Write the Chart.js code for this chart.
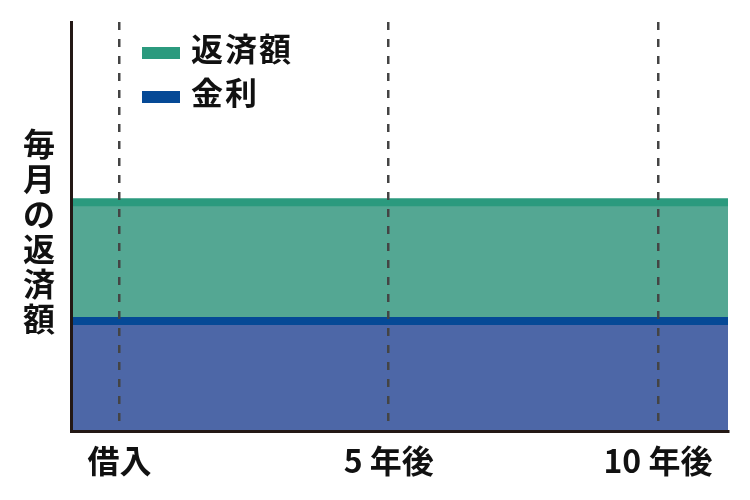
<!DOCTYPE html>
<html lang="ja">
<head>
  <meta charset="UTF-8" />
  <title>毎月の返済額</title>
  <script src="https://cdn.jsdelivr.net/npm/chart.js"></script>
  <style>
    html, body { margin: 0; padding: 0; background: #fff; }
    body { font-family: "Noto Sans CJK JP", "Noto Sans", sans-serif; font-weight: bold; color: #111; }
    .wrap { position: relative; width: 750px; height: 500px; }
    canvas { position: absolute; left: 0; top: 0; }
    .ytitle { position: absolute; left: 22px; top: 125px; width: 34px; font-size: 32px; line-height: 35px; text-align: center; }
    .legend { position: absolute; left: 142px; top: 26px; font-size: 32px; letter-spacing: 2px; }
    .legend div { height: 44px; line-height: 42px; white-space: nowrap; }
    .legend span.sw { display: inline-block; width: 38px; height: 12px; margin-right: 11px; vertical-align: middle; position: relative; top: 1px; }
  </style>
</head>
<body>
  <div class="wrap">
    <canvas id="chart" width="750" height="500"></canvas>
    <div class="ytitle">毎<br>月<br>の<br>返<br>済<br>額</div>
    <div class="legend" id="legend"></div>
  </div>

  <script>
    // years after borrowing (flat monthly payment across the whole span)
    const years = [-1, 0, 5, 10, 12];
    const repayment = [56, 56, 56, 56, 56];   // 返済額 (total monthly payment)
    const interest = [27, 27, 27, 27, 27];    // 金利
    const tickYears = [0, 5, 10];
    const tickLabels = ["借入", "5 年後", "10 年後"];

    const seriesNames = ["返済額", "金利"];
    const lineColors = ["#2b9a7e", "#054996"];
    const fillColors = ["#54a793", "#4d67a7"];

    const legend = document.getElementById("legend");
    seriesNames.forEach((name, i) => {
      const row = document.createElement("div");
      row.innerHTML = `<span class="sw" style="background:${lineColors[i]}"></span>${name}`;
      legend.appendChild(row);
    });

    const toPoints = vals => years.map((x, i) => ({ x, y: vals[i] }));

    new Chart(document.getElementById("chart").getContext("2d"), {
      type: "line",
      data: {
        datasets: [
          {
            label: "金利", data: toPoints(interest),
            borderColor: lineColors[1], backgroundColor: fillColors[1],
            borderWidth: 8, pointRadius: 0, fill: "origin", clip: 0
          },
          {
            label: "返済額", data: toPoints(repayment),
            borderColor: lineColors[0], backgroundColor: fillColors[0],
            borderWidth: 8, pointRadius: 0, fill: "origin", clip: 0
          }
        ]
      },
      options: {
        responsive: false,
        animation: false,
        layout: { padding: { left: 63, top: 22, right: 22, bottom: 10 } },
        plugins: { legend: { display: false }, tooltip: { enabled: false } },
        scales: {
          x: {
            type: "linear", min: -0.9, max: 11.3,
            afterBuildTicks: s => { s.ticks = tickYears.map(v => ({ value: v })); },
            grid: { color: "#444", lineWidth: 2.5, drawTicks: false, z: 1 },
            border: { color: "#231815", width: 3, dash: [8, 9], z: 2 },
            ticks: {
              padding: 10, color: "#111", maxRotation: 0, autoSkip: false,
              font: { family: "'Noto Sans CJK JP'", size: 32, weight: "bold" },
              callback: v => tickLabels[tickYears.indexOf(v)] ?? ""
            }
          },
          y: {
            min: 0, max: 100,
            grid: { display: false },
            border: { color: "#231815", width: 3, z: 2 },
            ticks: { display: false }
          }
        }
      }
    });
  </script>
</body>
</html>
